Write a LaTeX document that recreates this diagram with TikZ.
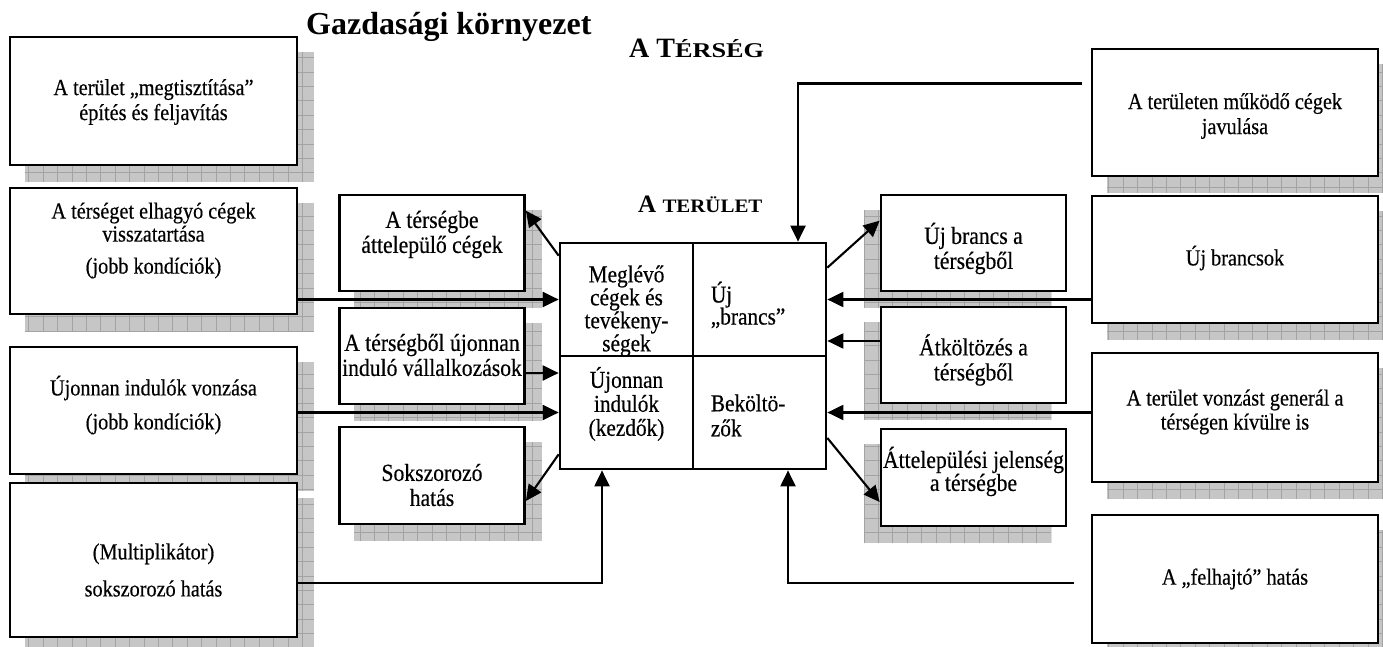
\documentclass[tikz,border=0pt]{standalone}
\usepackage{fontspec}
\usepackage{graphicx}
\setmainfont{Liberation Serif}
\newfontfamily\bodyfont[FakeStretch=0.88,FakeBold=0.4]{Liberation Serif}
\usetikzlibrary{arrows.meta,calc}
\pgfdeclarelayer{background}
\pgfsetlayers{background,main}

% grey chequered drop shadow behind a box; #2 is the horizontal offset
\newcommand\boxshadow[2]{%
  \begin{pgfonlayer}{background}
    \begin{scope}
      \clip ($(#1.south west)+(#2,16)$) rectangle ($(#1.north east)+(#2,16)$);
      \fill[shadowfill] ($(#1.south west)+(#2,16)$) rectangle ($(#1.north east)+(#2,16)$);
      \draw[shadowgrid] ($(#1.south west)+(#2,16)$) grid ($(#1.north east)+(#2,16)$);
    \end{scope}
  \end{pgfonlayer}}

\tikzset{
  box/.style={draw, line width=2.7pt, fill=white, inner sep=0pt},
  bigbox/.style={box, minimum width=287pt, minimum height=#1},
  smallbox/.style={box, minimum width=185pt, minimum height=#1},
  cell/.style={draw, line width=2.7pt, fill=white, inner sep=0pt,
    minimum width=133pt, minimum height=113pt},
  bigtext/.style={align=center, inner sep=0pt, font=\bodyfont\fontsize{23}{25}\selectfont},
  smalltext/.style={align=center, inner sep=0pt, font=\bodyfont\fontsize{24.6}{25}\selectfont},
  celltext/.style={inner sep=0pt, font=\bodyfont\fontsize{24.2}{23}\selectfont},
  shadowfill/.style={fill=gray!45},
  shadowgrid/.style={draw=gray!72, line width=0.7pt, step=14.4pt},
  arr/.style={line width=2.1pt, -{Triangle[length=16pt,width=15pt]}},
}

\begin{document}
\begin{tikzpicture}[x=1pt, y=-1pt]
\useasboundingbox (0,0) rectangle (1383,647);

% titles
\node[anchor=base west, inner sep=0pt] (gazd) at (306,35)
  {\fontsize{32}{36}\selectfont\bfseries Gazdasági környezet};
\node[anchor=base west, inner sep=0pt] (terseg) at (629,58)
  {\bfseries\fontsize{28}{32}\selectfont A T\fontsize{21}{24}\selectfont\scalebox{1.25}[1]{ÉRSÉG}};
\node[anchor=base west, inner sep=0pt] (terulet) at (638,212)
  {\bfseries\fontsize{25}{28}\selectfont A \fontsize{19}{22}\selectfont\scalebox{1.1}[1]{TERÜLET}};

% left column
\node[bigbox=128pt] (L1) at (153.5,101) {};
\node[bigbox=126pt] (L2) at (153.5,251) {};
\node[bigbox=127pt] (L3) at (153.5,410.5) {};
\node[bigbox=154pt] (L4) at (153.5,560) {};
\node[bigtext] (L1t) at ($(L1)+(0,1)$) {A terület „megtisztítása”\\építés és feljavítás};
\node[bigtext, font=\bodyfont\fontsize{23}{23}\selectfont] (L2t) at ($(L2)+(0,-10.5)$)
  {A térséget elhagyó cégek\\visszatartása\\[9pt](jobb kondíciók)};
\node[bigtext] (L3t) at ($(L3)+(0,-5.5)$) {Újonnan indulók vonzása\\[9pt](jobb kondíciók)};
\node[bigtext] (L4t) at ($(L4)+(0,10)$) {(Multiplikátor)\\[12pt]sokszorozó hatás};

% inner left column
\node[smallbox=96pt] (S1) at (432,243) {};
\node[smallbox=96pt] (S2) at (432,356) {};
\node[smallbox=97pt] (S3) at (432,475.5) {};
\node[smalltext] (S1t) at ($(S1)+(0,-8.5)$) {A térségbe\\áttelepülő cégek};
\node[smalltext] (S2t) at ($(S2)+(0,-1)$) {A térségből újonnan\\induló vállalkozások};
\node[smalltext] (S3t) at ($(S3)+(0,9.5)$) {Sokszorozó\\hatás};

% the area: four cells
\node[cell] (C1) at (626.5,299.5) {};
\node[cell] (C2) at (759.5,299.5) {};
\node[cell] (C3) at (626.5,412.5) {};
\node[cell] (C4) at (759.5,412.5) {};
\node[celltext, align=center] (C1t) at ($(C1)+(0,11.5)$) {Meglévő\\cégek és\\tevékeny-\\ségek};
\node[celltext, align=left, anchor=west, font=\bodyfont\fontsize{24.2}{22}\selectfont] (C2t) at ($(C2.west)+(19,5.5)$) {Új\\„brancs”};
\node[celltext, align=center, font=\bodyfont\fontsize{24.2}{24}\selectfont] (C3t) at ($(C3)+(0,-8.5)$) {Újonnan\\indulók\\(kezdők)};
\node[celltext, align=left, anchor=west, font=\bodyfont\fontsize{24.2}{25}\selectfont] (C4t) at ($(C4.west)+(19,3)$) {Beköltö-\\zők};

% inner right column
\node[smallbox=96pt] (R1) at (973.5,243) {};
\node[smallbox=96pt] (R2) at (973.5,355) {};
\node[smallbox=97pt] (R3) at (973.5,477.5) {};
\node[smalltext] (R1t) at ($(R1)+(0,5.5)$) {Új brancs a\\térségből};
\node[smalltext] (R2t) at ($(R2)+(0,5)$) {Átköltözés a\\térségből};
\node[smalltext, font=\bodyfont\fontsize{24.6}{23}\selectfont] (R3t) at ($(R3)+(0,-6)$) {Áttelepülési jelenség\\a térségbe};

% right column
\node[bigbox=127pt, minimum width=286pt] (B1) at (1235,112.5) {};
\node[bigbox=127pt, minimum width=286pt] (B2) at (1235,259.5) {};
\node[bigbox=129pt, minimum width=286pt] (B3) at (1235,417.5) {};
\node[bigbox=128pt, minimum width=286pt] (B4) at (1235,579) {};
\node[bigtext] (B1t) at ($(B1)+(0,3.5)$) {A területen működő cégek\\javulása};
\node[bigtext] (B2t) at ($(B2)+(0,-1.5)$) {Új brancsok};
\node[bigtext, font=\bodyfont\fontsize{23}{24}\selectfont] (B3t) at ($(B3)+(0,-5.5)$) {A terület vonzást generál a\\térségen kívülre is};
\node[bigtext] (B4t) at (B4) {A „felhajtó” hatás};

% shadows
\foreach \n in {L1,L2,L3,L4,S1,S2,S3,B1,B2,B3,B4} {\boxshadow{\n}{16}}
\foreach \n in {R1,R2,R3} {\boxshadow{\n}{-16}}

% connectors
\coordinate (b1out) at ($(B1.west)+(-9,-29)$);
\draw[arr] (b1out) -| ($(C2.north)+(38.5,0)$);
\draw[arr] ($(C1.north west)+(0,14)$) -- ($(S1.north east)+(0,17)$);
\draw[arr] (L2.east |- C1.west) -- (C1.west);
\coordinate (s2out) at ($(S2.east)+(0,17)$);
\draw[arr] (s2out) -- (s2out -| C3.west);
\draw[arr] (L3.east |- C3.west) -- (C3.west);
\draw[arr] ($(C3.south west)+(0,-16)$) -- ($(S3.east)+(0,25.5)$);
\coordinate (l4out) at ($(L4.east)+(0,23)$);
\draw[arr] (l4out) -| ($(C3.south)+(-24.5,0)$);
\coordinate (b4out) at ($(B4.west)+(-17,4)$);
\draw[arr] (b4out) -| ($(C4.south)+(28.5,0)$);
\draw[arr] ($(C2.north east)+(0,26)$) -- ($(R1.north west)+(0,27)$);
\draw[arr] (B2.west |- C2.east) -- (C2.east);
\coordinate (r2out) at ($(R2.west)+(0,-14)$);
\draw[arr] (r2out) -- (r2out -| C2.east);
\draw[arr] (B3.west |- C4.east) -- (C4.east);
\draw[arr] ($(C4.east)+(0,25.5)$) -- ($(R3.west)+(0,24.5)$);
\end{tikzpicture}
\end{document}
